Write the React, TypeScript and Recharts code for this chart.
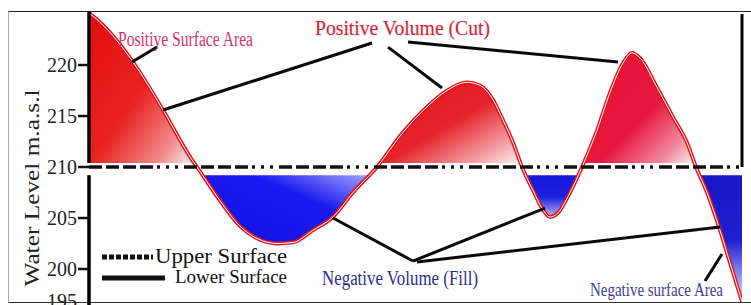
import React from 'react';
import { ComposedChart, Area, Line, XAxis, YAxis, ReferenceLine, Legend } from 'recharts';

// chainage along the section (m) and ground water level (m.a.s.l)
const chainage = [0, 11, 44, 74, 103, 108, 131, 151, 168, 188, 204, 224, 244, 264, 288, 314, 338, 358, 378, 391, 404, 414, 424, 433, 444, 454, 461, 469, 479, 493, 508, 521, 534, 543, 551, 568, 584, 598, 607, 618, 631, 641, 653];
const waterLevel = [225.1, 224.2, 220.3, 215.6, 210.7, 210.0, 206.7, 204.2, 203.0, 202.5, 202.6, 203.8, 205.1, 207.5, 210.0, 213.4, 215.9, 217.5, 218.3, 218.0, 216.6, 214.6, 212.4, 210.0, 207.7, 205.8, 205.1, 205.5, 207.1, 210.0, 213.6, 217.3, 220.2, 221.2, 220.7, 217.8, 214.9, 212.4, 210.0, 207.5, 203.8, 200.6, 196.8];

const designLevel = 210;
const bandRange = [209.2, 210.4];
const yTicks = [195, 200, 205, 210, 215, 220];
const yDomain = [195, 225.2];
const xDomain = [0, 653];

// cut / fill lobes (chainage ranges)
const lobeKeys = ['cut1', 'fill1', 'cut2', 'fill2', 'cut3', 'fill3'];
const lobeFrom = [0, 108, 288, 433, 493, 607];
const lobeTo = [108, 288, 433, 493, 607, 653];

// annotation leader lines in data coordinates [chainage1, level1, chainage2, level2]
const leaders = [
  [43, 220.29, 68, 221.76],
  [74, 215.59, 283, 222.16],
  [299, 221.76, 353, 217.75],
  [319, 222.25, 529, 220.29],
  [324, 200.78, 244, 205.0],
  [324, 200.78, 456, 205.98],
  [328, 200.69, 631, 204.12],
  [616, 198.82, 633, 201.47],
];

const legendItems = ['Upper Surface', 'Lower Surface'];

const table = chainage.map((d, i) => {
  const row: any = { d, level: waterLevel[i], design: designLevel, band: bandRange };
  lobeKeys.forEach((k, j) => {
    row[k] = d >= lobeFrom[j] && d <= lobeTo[j] ? waterLevel[i] : null;
  });
  return row;
});

const serif = '"Liberation Serif", "Times New Roman", Times, serif';

const AxisTick = (props: any) => {
  const { x, y, payload } = props;
  const shift = payload.value === 195 ? -19 : 0;
  return (
    <text x={x} y={y + shift} dy="0.36em" textAnchor="end" fontSize={20} fontFamily={serif} fill="#222">
      {payload.value}
    </text>
  );
};

const LegendContent = () => (
  <svg width={200} height={44} style={{ display: 'block' }}>
    <line x1={2} y1={12} x2={53} y2={12} stroke="#111" strokeWidth={5} strokeDasharray="5 2" />
    <text x={55} y={18} fontSize={20} fontFamily={serif} fill="#111" textLength={132} lengthAdjust="spacingAndGlyphs">{legendItems[0]}</text>
    <line x1={2} y1={33} x2={65} y2={33} stroke="#111" strokeWidth={5} />
    <text x={75} y={38} fontSize={19} fontFamily={serif} fill="#111" textLength={112} lengthAdjust="spacingAndGlyphs">{legendItems[1]}</text>
  </svg>
);

export default function App() {
  return (
    <div style={{ position: 'absolute', left: 0, top: 0, width: 751, height: 305, overflow: 'hidden', background: '#fff' }}>
      <div style={{ position: 'absolute', left: 8, top: 11, width: 760, height: 290, borderTop: '1.5px solid #222', borderLeft: '1px solid #aaa', borderBottom: '1.5px solid #333' }} />
      <div style={{ position: 'absolute', left: 0, top: 0 }}>
        <ComposedChart width={751} height={305} data={table} margin={{ top: 12, right: 9, bottom: -15, left: 0 }}>
          <defs>
            <linearGradient id="gcut1" x1="0" y1="0" x2="1" y2="1">
              <stop offset="0" stopColor="#e40c0c" />
              <stop offset="0.5" stopColor="#e92222" />
              <stop offset="0.8" stopColor="#f08a8a" />
              <stop offset="1" stopColor="#ffffff" />
            </linearGradient>
            <linearGradient id="gcut2" x1="0" y1="0" x2="1" y2="1">
              <stop offset="0" stopColor="#e0141e" />
              <stop offset="0.5" stopColor="#e6242c" />
              <stop offset="0.8" stopColor="#f2a0a4" />
              <stop offset="1" stopColor="#ffffff" />
            </linearGradient>
            <linearGradient id="gcut3" x1="0" y1="0" x2="1" y2="1">
              <stop offset="0" stopColor="#e6103a" />
              <stop offset="0.55" stopColor="#e8163e" />
              <stop offset="0.82" stopColor="#f08aa0" />
              <stop offset="1" stopColor="#ffffff" />
            </linearGradient>
            <linearGradient id="gfill1" x1="0" y1="1" x2="1" y2="0">
              <stop offset="0" stopColor="#1010e4" />
              <stop offset="0.6" stopColor="#1a1af0" />
              <stop offset="1" stopColor="#c4c4ff" />
            </linearGradient>
            <linearGradient id="gfill2" x1="0" y1="0" x2="0" y2="1">
              <stop offset="0" stopColor="#1414d0" />
              <stop offset="0.6" stopColor="#1e1ee0" />
              <stop offset="1" stopColor="#b8b8ff" />
            </linearGradient>
            <linearGradient id="gfill3" x1="0" y1="0" x2="0" y2="1">
              <stop offset="0" stopColor="#1616c4" />
              <stop offset="0.55" stopColor="#2020d4" />
              <stop offset="1" stopColor="#e0e4ff" />
            </linearGradient>
          </defs>
          <XAxis type="number" dataKey="d" domain={xDomain} hide allowDataOverflow />
          <YAxis
            type="number"
            domain={yDomain}
            ticks={yTicks}
            width={89}
            axisLine={false}
            tickSize={11}
            tickMargin={1}
            tickLine={{ stroke: '#111', strokeWidth: 2.5 }}
            tick={<AxisTick />}
            allowDataOverflow
            interval={0}
          />
          {lobeKeys.map((k) => (
            <Area
              key={k}
              type="monotone"
              dataKey={k}
              baseValue={designLevel}
              stroke="none"
              fill={`url(#g${k})`}
              fillOpacity={1}
              isAnimationActive={false}
              connectNulls={false}
              dot={false}
              activeDot={false}
            />
          ))}
          <Area type="linear" dataKey="band" stroke="none" fill="#ffffff" fillOpacity={1} isAnimationActive={false} dot={false} activeDot={false} />
          <Line type="monotone" dataKey="level" stroke="#e3141c" strokeWidth={3.8} dot={false} activeDot={false} isAnimationActive={false} />
          <Line type="monotone" dataKey="level" stroke="#ffffff" strokeWidth={1} dot={false} activeDot={false} isAnimationActive={false} />
          <Line type="linear" dataKey="design" stroke="#111" strokeWidth={3.5} strokeDasharray="13 4 13 4 13 4 13 4 3 6 3 6 3 6" dot={false} activeDot={false} isAnimationActive={false} />
          <ReferenceLine segment={[{ x: 0, y: 195 }, { x: 0, y: bandRange[0] }]} stroke="#000" strokeWidth={3.5} ifOverflow="visible" />
          <ReferenceLine segment={[{ x: 0, y: bandRange[1] }, { x: 0, y: yDomain[1] }]} stroke="#000" strokeWidth={3.5} ifOverflow="visible" />
          <ReferenceLine segment={[{ x: xDomain[1], y: designLevel }, { x: xDomain[1], y: 225 }]} stroke="#000" strokeWidth={3} ifOverflow="visible" />
          {leaders.map((s, i) => (
            <ReferenceLine key={i} segment={[{ x: s[0], y: s[1] }, { x: s[2], y: s[3] }]} stroke="#0a0a0a" strokeWidth={3} ifOverflow="visible" />
          ))}
          <Legend
            layout="horizontal"
            verticalAlign="middle"
            align="center"
            content={<LegendContent />}
            wrapperStyle={{ position: 'absolute', left: 100, top: 245, width: 200, height: 44 }}
          />
        </ComposedChart>
      </div>
      <svg width={751} height={305} style={{ position: 'absolute', left: 0, top: 0, pointerEvents: 'none' }}>
        <text transform="translate(39,188) rotate(-90)" textAnchor="middle" fontSize={21} fontFamily={serif} fill="#222" textLength={197} lengthAdjust="spacingAndGlyphs">Water Level m.a.s.l</text>
        <text x={118} y={46} fontSize={20} fontFamily={serif} fill="#d6336a" textLength={135} lengthAdjust="spacingAndGlyphs">Positiye Surface Area</text>
        <text x={315} y={35} fontSize={20} fontFamily={serif} fill="#c92a38" stroke="#fbe6e8" strokeWidth={1.5} paintOrder="stroke" textLength={175} lengthAdjust="spacingAndGlyphs">Positive Volume (Cut)</text>
        <text x={322} y={285} fontSize={20} fontFamily={serif} fill="#2c2e8e" textLength={156} lengthAdjust="spacingAndGlyphs">Negative Volume (Fill)</text>
        <text x={590} y={296} fontSize={18} fontFamily={serif} fill="#3b3d96" textLength={133} lengthAdjust="spacingAndGlyphs">Negative surface Area</text>
      </svg>
    </div>
  );
}
